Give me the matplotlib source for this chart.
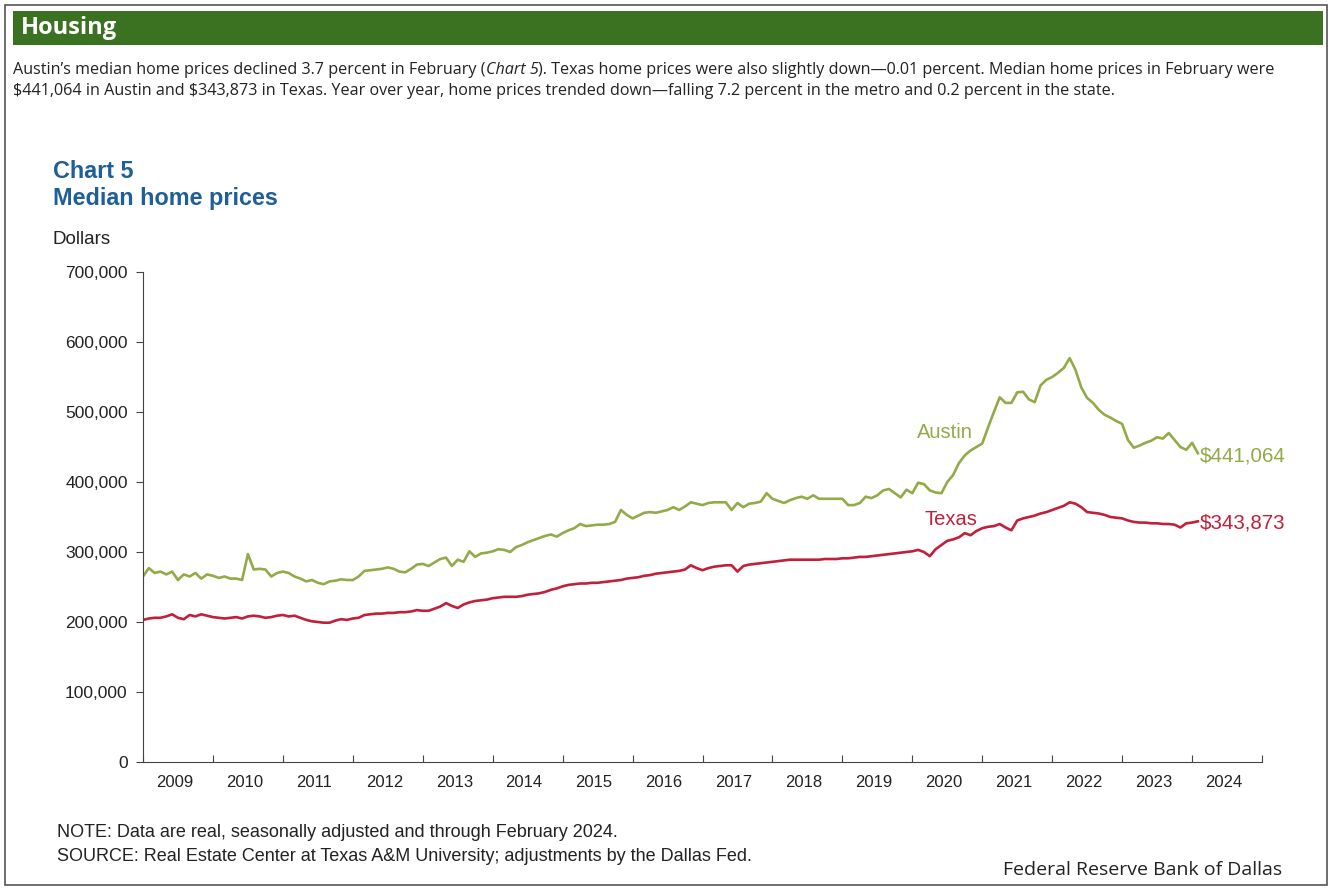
import numpy as np
import matplotlib.pyplot as plt
from matplotlib.patches import Rectangle
from matplotlib.ticker import FuncFormatter

# Monthly median home prices, Jan 2009 - Feb 2024 (thousands of dollars)
austin = [
    265, 277, 270, 272, 268, 272, 260, 268, 265, 270, 262, 268,  # 2009
    266, 263, 265, 262, 262, 260, 297, 275, 276, 275, 265, 270,  # 2010
    272, 270, 265, 262, 258, 260, 256, 254, 258, 259, 261, 260,  # 2011
    260, 265, 273, 274, 275, 276, 278, 276, 272, 271, 276, 282,  # 2012
    283, 280, 285, 290, 292, 280, 289, 286, 301, 293, 298, 299,  # 2013
    301, 304, 303, 300, 307, 310, 314, 317, 320, 323, 325, 322,  # 2014
    327, 331, 334, 340, 337, 338, 339, 339, 340, 343, 360, 353,  # 2015
    348, 352, 356, 357, 356, 358, 360, 364, 360, 365, 371, 369,  # 2016
    367, 370, 371, 371, 371, 360, 370, 364, 369, 370, 372, 384,  # 2017
    376, 373, 370, 374, 377, 379, 376, 381, 376, 376, 376, 376,  # 2018
    376, 367, 367, 370, 379, 377, 381, 388, 390, 384, 378, 389,  # 2019
    384, 399, 397, 388, 385, 384, 400, 410, 427, 438, 445, 450,  # 2020
    455, 478, 500, 521, 513, 513, 528, 529, 518, 514, 538, 546,  # 2021
    550, 556, 563, 577, 560, 535, 520, 513, 503, 496, 492, 487,  # 2022
    483, 460, 449, 452, 456, 459, 464, 462, 470, 460, 450, 446,  # 2023
    456, 441.064,                                                # 2024
]
texas = [
    203, 205, 206, 206, 208, 211, 206, 204, 210, 208, 211, 209,  # 2009
    207, 206, 205, 206, 207, 205, 208, 209, 208, 206, 207, 209,  # 2010
    210, 208, 209, 206, 203, 201, 200, 199, 199, 202, 204, 203,  # 2011
    205, 206, 210, 211, 212, 212, 213, 213, 214, 214, 215, 217,  # 2012
    216, 216, 219, 222, 227, 223, 220, 225, 228, 230, 231, 232,  # 2013
    234, 235, 236, 236, 236, 237, 239, 240, 241, 243, 246, 248,  # 2014
    251, 253, 254, 255, 255, 256, 256, 257, 258, 259, 260, 262,  # 2015
    263, 264, 266, 267, 269, 270, 271, 272, 273, 275, 281, 277,  # 2016
    274, 277, 279, 280, 281, 281, 272, 280, 282, 283, 284, 285,  # 2017
    286, 287, 288, 289, 289, 289, 289, 289, 289, 290, 290, 290,  # 2018
    291, 291, 292, 293, 293, 294, 295, 296, 297, 298, 299, 300,  # 2019
    301, 303, 300, 294, 304, 310, 316, 318, 321, 327, 324, 330,  # 2020
    334, 336, 337, 340, 335, 331, 345, 348, 350, 352, 355, 357,  # 2021
    360, 363, 366, 371, 369, 364, 357, 356, 355, 353, 350, 349,  # 2022
    348, 345, 343, 342, 342, 341, 341, 340, 340, 339, 335, 341,  # 2023
    342, 343.873,                                                # 2024
]
years = list(range(2009, 2025))
y_ticks = [0, 100000, 200000, 300000, 400000, 500000, 600000, 700000]

austin = np.array(austin) * 1000
texas = np.array(texas) * 1000
t = 2009 + np.arange(len(austin)) / 12

GREEN = "#92aa47"
RED = "#c21f3a"
BLUE = "#1f5f99"
INK = "#222222"
FONT = ["Liberation Sans", "DejaVu Sans"]

W, H = 1331, 888
fig = plt.figure(figsize=(W / 100, H / 100), dpi=100)


def fx(px):
    return px / W


def fy(py):
    return 1 - py / H


# outer frame and section header
fig.patches.append(Rectangle((fx(5), fy(885)), fx(1322), 880 / H, transform=fig.transFigure,
                             fill=False, edgecolor="#555555", lw=1.2))
fig.patches.append(Rectangle((fx(13), fy(45)), fx(1310), 34 / H, transform=fig.transFigure,
                             facecolor="#3a7222", edgecolor="none"))
fig.text(fx(21), fy(28), "Housing", color="white", fontsize=17, fontweight="bold",
         family="Open Sans", va="center")

# intro paragraph; the chart reference is set in italics
renderer = fig.canvas.get_renderer()
x = fx(13)
for piece, style in [("Austin\u2019s median home prices declined 3.7 percent in February (", "normal"),
                     ("Chart 5", "italic"),
                     ("). Texas home prices were also slightly down\u20140.01 percent. "
                      "Median home prices in February were", "normal")]:
    txt = fig.text(x, fy(70), piece, fontsize=11.6, family="Open Sans", style=style,
                   color=INK, va="center")
    bb = txt.get_window_extent(renderer)
    x += bb.width / W
fig.text(fx(13), fy(91), "\\$441,064 in Austin and \\$343,873 in Texas. Year over year, home prices "
         "trended down\u2014falling 7.2 percent in the metro and 0.2 percent in the state.",
         fontsize=11.6, family="Open Sans", color=INK, va="center")

fig.text(fx(53), fy(172), "Chart 5", fontsize=16.8, fontweight="bold", color=BLUE,
         family=FONT, va="center")
fig.text(fx(53), fy(199), "Median home prices", fontsize=16.8, fontweight="bold", color=BLUE,
         family=FONT, va="center")
fig.text(fx(53), fy(239), "Dollars", fontsize=13.5, color=INK, family=FONT, va="center")

ax = fig.add_axes([fx(143), fy(762), fx(1262 - 143), (762 - 272) / H])
ax.plot(t, austin, color=GREEN, lw=1.9, solid_joinstyle="round")
ax.plot(t, texas, color=RED, lw=1.9, solid_joinstyle="round")

ax.set_xlim(2009, 2024.92)
ax.set_ylim(0, 700000)
ax.set_yticks(y_ticks)
ax.yaxis.set_major_formatter(FuncFormatter(lambda v, p: f"{int(v):,}"))
ax.set_xticks(years + [2025])
ax.set_xticklabels([])
ax.set_xticks([y + 0.45 for y in years], minor=True)
ax.set_xticklabels([str(y) for y in years], minor=True)
ax.tick_params(axis="x", which="minor", length=0, pad=9, labelsize=12, labelcolor=INK)
ax.tick_params(axis="x", which="major", length=5, direction="in", color="#444444")
ax.tick_params(axis="y", length=5, direction="out", color="#444444", labelsize=12.5,
               labelcolor=INK, pad=6)
for lbl in ax.get_xticklabels(minor=True) + ax.get_yticklabels():
    lbl.set_family(FONT)
for side in ["top", "right"]:
    ax.spines[side].set_visible(False)
ax.spines["left"].set_color("#444444")
ax.spines["bottom"].set_color("#444444")
ax.patch.set_alpha(0)

# series labels
ax.text(2020.86, 471000, "Austin", color=GREEN, fontsize=14.5, family=FONT, ha="right", va="center")
ax.text(2020.55, 347000, "Texas", color=RED, fontsize=14.5, family=FONT, ha="center", va="center")
ax.annotate(f"\\${austin[-1]:,.0f}", (t[-1], austin[-1]), xytext=(1, -2), textcoords="offset points",
            color=GREEN, fontsize=14.8, family=FONT, va="center")
ax.annotate(f"\\${texas[-1]:,.0f}", (t[-1], texas[-1]), xytext=(1, -1), textcoords="offset points",
            color=RED, fontsize=14.8, family=FONT, va="center")

fig.text(fx(57), fy(832), "NOTE: Data are real, seasonally adjusted and through February 2024.",
         fontsize=13, family=FONT, color=INK, va="center")
fig.text(fx(57), fy(856), "SOURCE: Real Estate Center at Texas A&M University; adjustments by the Dallas Fed.",
         fontsize=13, family=FONT, color=INK, va="center")
fig.text(fx(1282), fy(870), "Federal Reserve Bank of Dallas", fontsize=14, family="Open Sans",
         color=INK, ha="right", va="center")

fig.savefig("out.png", dpi=100)
